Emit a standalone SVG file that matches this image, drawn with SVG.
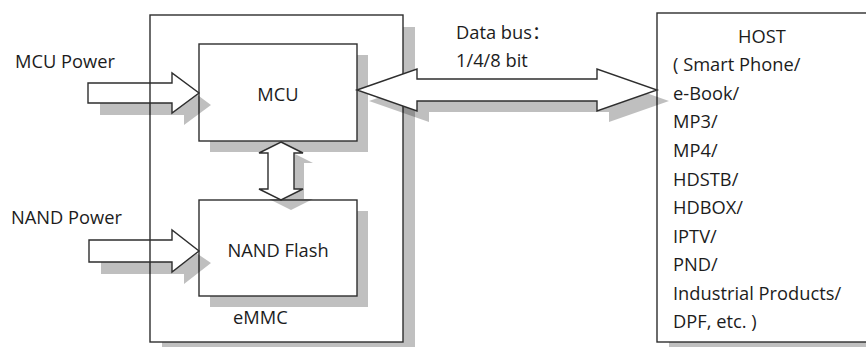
<svg xmlns="http://www.w3.org/2000/svg" width="866" height="347" viewBox="0 0 866 347">
<style>
text{font-family:"Open Sans","Noto Sans","Noto Sans CJK SC",sans-serif;font-size:18.3px;fill:#1c1c1c}
.box{fill:#fff;stroke:#2e2e2e;stroke-width:1.4}
.frame{fill:none;stroke:#2e2e2e;stroke-width:1.4}
.sh{fill:#c0c0c0}
.ash{fill:#000;fill-opacity:0.25}
.arr{fill:#fff;stroke:#2e2e2e;stroke-width:1.4;stroke-linejoin:miter}
.arro{fill:none;stroke:#2e2e2e;stroke-width:1.4;stroke-linejoin:miter}
.c{text-anchor:middle}
</style>
<rect width="866" height="347" fill="#fff"/>
<g id="emmc">
<path class="sh" d="M403 27 H415 V354 H162 V342 H403 Z"/>
<rect class="frame" x="150" y="15" width="253" height="327"/>
<text x="233" y="324">eMMC</text>
</g>
<g id="mcu">
<rect class="sh" x="210" y="55" width="158" height="97"/>
<rect class="box" x="199" y="44" width="158" height="97"/>
<text class="c" x="278" y="101">MCU</text>
</g>
<g id="nand">
<rect class="sh" x="210" y="211" width="158" height="96"/>
<rect class="box" x="199" y="200" width="158" height="96"/>
<text class="c" x="278" y="257">NAND Flash</text>
</g>
<g id="host">
<rect class="sh" x="669" y="25" width="220" height="330"/>
<rect class="box" x="657" y="13" width="230" height="329"/>
<text class="c" x="762" y="43">HOST</text>
<text x="673" y="71">( Smart Phone/</text>
<text x="673" y="100">e-Book/</text>
<text x="673" y="128">MP3/</text>
<text x="673" y="157">MP4/</text>
<text x="673" y="186">HDSTB/</text>
<text x="673" y="214">HDBOX/</text>
<text x="673" y="243">IPTV/</text>
<text x="673" y="271">PND/</text>
<text x="673" y="300">Industrial Products/</text>
<text x="673" y="328">DPF, etc. )</text>
</g>
<g id="connectors">
<g id="mcu-power">
<polygon class="ash" points="100,103 172,103 172,113 196.9,94.6 211,105 184,125 184,115 100,115"/>
<polygon class="arro" points="88,83 172,83 172,73 199,93 172,113 172,103 88,103"/>
<text x="15" y="68">MCU Power</text>
</g>
<g id="nand-power">
<polygon class="ash" points="101,262 172,262 172,272 197,253.5 211,263 184,284 184,274 101,274"/>
<polygon class="arro" points="89,240 172,240 172,230 199,251 172,272 172,262 89,262"/>
<text x="11" y="224">NAND Power</text>
</g>
<g id="mcu-nand">
<polygon class="ash" points="291,152 313,163 304,163 304,199 313,199 291,210 269,199 278,199 278,163 269,163"/>
<polygon class="arr" points="281,142 303,153 294,153 294,189 303,189 281,200 259,189 268,189 268,153 259,153"/>
</g>
<g id="data-bus">
<polygon class="ash" points="369,101 429,80 429,90 609,90 609,80 669,101 609,122 609,112 429,112 429,122"/>
<polygon class="arr" points="357,90 417,69 417,79 597,79 597,69 657,90 597,111 597,101 417,101 417,111"/>
<text x="456" y="39">Data bus：</text>
<text x="456" y="67">1/4/8 bit</text>
</g>
</g>
</svg>
